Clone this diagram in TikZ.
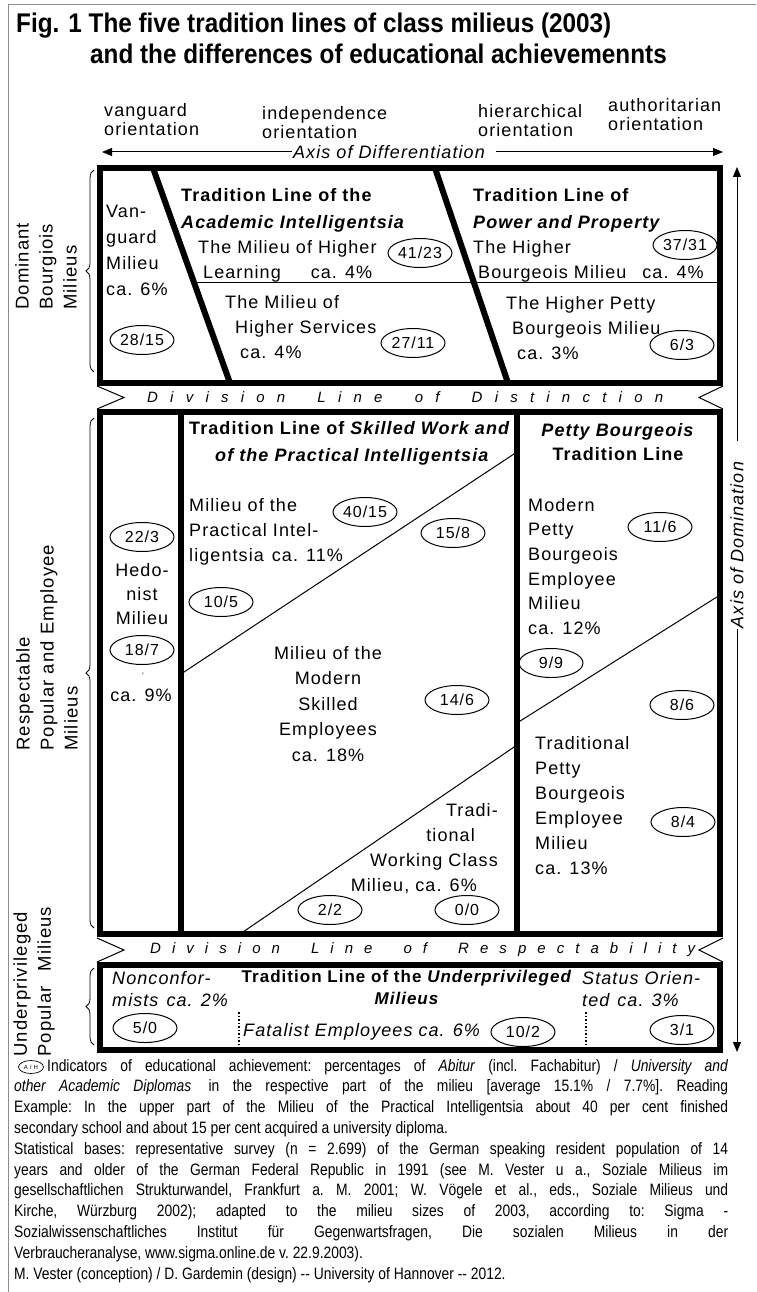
\documentclass[tikz,border=0pt]{standalone}
\usepackage{fontspec}
\setmainfont{Liberation Sans}[LetterSpace=6]
\newfontfamily\titlefont{Liberation Sans}[FakeStretch=0.9]
\newfontfamily\notefont{Liberation Sans}[FakeStretch=0.84]
\usetikzlibrary{arrows.meta,shapes.geometric,decorations.pathreplacing}

\newcommand\boxsize{\fontsize{18}{25}\selectfont}
\newcommand\spreadtext[2]{\makebox[#1][s]{#2}}

\tikzset{
  heavy/.style={line width=6pt},
  fineline/.style={line width=1pt},
  axisarrow/.style={line width=1pt, -{Triangle[length=10pt,width=8pt]}},
  titletext/.style={anchor=base west, inner sep=0pt,
    font=\titlefont\bfseries\fontsize{27}{30}\selectfont},
  lbl/.style={inner sep=0pt, align=left, anchor=north west, font=\boxsize},
  headlbl/.style={lbl, font=\fontsize{18}{27}\selectfont\bfseries},
  share/.style={ellipse, draw, line width=1pt, minimum width=64pt,
    minimum height=29pt, inner sep=0pt, font=\fontsize{16}{16}\selectfont},
  sidebrace/.style={decorate, decoration={brace, amplitude=8pt}, line width=0.8pt},
  sidelbl/.style={rotate=90, inner sep=0pt, align=left, anchor=west,
    font=\fontsize{18.5}{24}\selectfont},
  lowlbl/.style={inner sep=0pt, align=left, anchor=north west,
    font=\fontsize{18}{22}\selectfont\itshape},
  divlbl/.style={anchor=west, inner sep=0pt, font=\fontsize{15}{15}\selectfont\itshape},
}

\begin{document}
\begin{tikzpicture}[x=1pt, y=-1pt]
  \useasboundingbox (0,0) rectangle (756,1292);
  \draw[black!45, line width=1pt] (8,1292) -- (8,5) -- (756,5);

  % title
  \node[titletext] (title1) at (16,33) {Fig. 1 The five tradition lines of class milieus (2003)};
  \node[titletext] (title2) at (90,64) {and the differences of educational achievemennts};

  % orientations and the two axes
  \node[lbl, font=\fontsize{18}{19}\selectfont] (vanguard) at (104,103) {vanguard\\orientation};
  \node[lbl, font=\fontsize{18}{19}\selectfont] (independence) at (262,106) {independence\\orientation};
  \node[lbl, font=\fontsize{18}{19}\selectfont] (hierarchical) at (478,104) {hierarchical\\orientation};
  \node[lbl, font=\fontsize{18}{19}\selectfont] (authoritarian) at (608,98) {authoritarian\\orientation};

  \node[inner sep=1pt, font=\boxsize\itshape] (diff) at (389,152) {Axis of Differentiation};
  \coordinate (diffL) at (102,152);
  \coordinate (diffR) at (723,152);
  \draw[axisarrow] (diff.west) -- (diffL);
  \draw[axisarrow, shorten <=10pt] (diff.east) -- (diffR);

  \node[rotate=90, inner sep=1pt, font=\boxsize\itshape] (dom) at (737,545) {Axis of Domination};
  \coordinate (domT) at (737,167);
  \coordinate (domB) at (737,1052);
  \draw[axisarrow, shorten <=20pt] (dom.east) -- (domT);
  \draw[axisarrow] (dom.west) -- (domB);

  % left hand labels
  \draw[sidebrace] (94,372) -- (94,170);
  \draw[sidebrace] (94,928) -- (94,418);
  \draw[sidebrace] (94,1045) -- (94,968);
  \node[sidelbl] (dominant) at (46,310) {Dominant\\Bourgiois\\Milieus};
  \node[sidelbl] (respectable) at (47,751) {Respectable\\Popular and Employee\\Milieus};
  \node[sidelbl] (underpriv) at (34,1057) {Underprivileged\\\spreadtext{150pt}{Popular Milieus}};

  % dominant milieus
  \draw[heavy] (100,168) rectangle (720,383);
  \draw[heavy] (153,168) -- (230,383);
  \draw[heavy] (435,168) -- (508,383);
  \draw[fineline] (194,282) -- (720,282);

  \node[lbl, font=\fontsize{18}{26}\selectfont] (vanguardmil) at (106,205) {Van-\\guard\\Milieu\\ca. 6\%};
  \node[headlbl] (academic) at (181,188) {Tradition Line of the\\\textit{Academic Intelligentsia}};
  \node[lbl] (learning) at (198,240) {The Milieu of Higher\\\hspace*{5pt}Learning\hspace{30pt}ca. 4\%};
  \node[lbl] (services) at (225,295) {The Milieu of\\\hspace*{10pt}Higher Services\\\hspace*{15pt}ca. 4\%};
  \node[headlbl] (power) at (473,188) {Tradition Line of\\\textit{Power and Property}};
  \node[lbl] (higherbourg) at (473,240) {The Higher\\\hspace*{5pt}Bourgeois Milieu\hspace{16pt}ca. 4\%};
  \node[lbl] (pettybourg) at (506,296) {The Higher Petty\\\hspace*{6pt}Bourgeois Milieu\\\hspace*{11pt}ca. 3\%};

  % division line of distinction
  \draw[fineline] (97,386) -- (124,397.5) -- (97,409);
  \draw[fineline] (723,386) -- (699,397.5) -- (723,409);
  \node[divlbl] (distinction) at (147,397.5)
    {\spreadtext{516pt}{D i v i s i o n\hspace{20pt} L i n e\hspace{20pt} o f\hspace{20pt} D i s t i n c t i o n}};

  % respectable popular and employee milieus
  \draw[heavy] (100,412) rectangle (720,934);
  \draw[heavy] (181,412) -- (181,934);
  \draw[heavy] (517,412) -- (517,934);
  \draw[fineline] (181,674) -- (517,452);
  \draw[fineline] (240,934) -- (517,745);
  \draw[fineline] (517,723) -- (720,595);

  \node[lbl, align=center, anchor=north, font=\fontsize{18}{24}\selectfont] (hedonist) at (142,563) {Hedo-\\nist\\Milieu};
  \node[inner sep=0pt, font=\fontsize{8}{8}\selectfont] (tick) at (143,676) {'};
  \node[inner sep=0pt, font=\boxsize] (hedoshare) at (141,695) {ca. 9\%};

  \node[headlbl] (skilled) at (189,421) {Tradition Line of \textit{Skilled Work and}\\\hspace*{26pt}\textit{of the Practical Intelligentsia}};
  \node[lbl] (practical) at (189,498) {Milieu of the\\Practical Intel-\\ligentsia\hspace{8pt}ca. 11\%};
  \node[lbl, align=center, anchor=north, font=\fontsize{18}{25.5}\selectfont] (modskilled) at (328,646) {Milieu of the\\Modern\\Skilled\\Employees\\ca. 18\%};
  \node[lbl, align=right, anchor=north east] (working) at (498,803) {Tradi-\\tional\hspace{23pt}\mbox{}\\Working Class\\Milieu, ca. 6\%\hspace{21pt}\mbox{}};

  \node[headlbl, align=center, anchor=north, font=\fontsize{18}{24}\selectfont\bfseries] (pettyhead) at (618,423) {\textit{Petty Bourgeois}\\Tradition Line};
  \node[lbl, font=\fontsize{18}{24.6}\selectfont] (modpetty) at (528,498) {Modern\\Petty\\Bourgeois\\Employee\\Milieu\\ca. 12\%};
  \node[lbl] (tradpetty) at (535,736) {Traditional\\Petty\\Bourgeois\\Employee\\Milieu\\ca. 13\%};

  % division line of respectability
  \draw[fineline] (97,938) -- (124,950) -- (97,962);
  \draw[fineline] (723,938) -- (699,950) -- (723,962);
  \node[divlbl] (respectability) at (150,950)
    {\spreadtext{545pt}{D i v i s i o n\hspace{20pt} L i n e\hspace{20pt} o f\hspace{20pt} R e s p e c t a b i l i t y}};

  % underprivileged milieus
  \draw[heavy] (100,965) rectangle (720,1050);
  \draw[dotted, line width=1.5pt] (239,1012) -- (239,1048);
  \draw[dotted, line width=1.5pt] (586,1012) -- (586,1045);
  \node[lowlbl] (nonconf) at (112,971) {Nonconfor-\\mists\hspace{8pt}ca. 2\%};
  \node[lowlbl, align=center, anchor=north, font=\fontsize{17}{22}\selectfont\bfseries] (underhead) at (407,970)
    {Tradition Line of the \textit{Underprivileged}\\\textit{Milieus}};
  \node[lowlbl] (status) at (582,971) {Status Orien-\\ted\hspace{8pt}ca. 3\%};
  \node[lowlbl, anchor=west] (fatalist) at (243,1032) {Fatalist Employees\hspace{6pt}ca. 6\%};

  % educational achievement
  \foreach \x/\y/\a/\b in {142/340/28/15, 420/253/41/23, 413/343/27/11, 685/245/37/31,
      682/345/6/3, 142/537/22/3, 142/650/18/7, 365/512/40/15, 453/533/15/8,
      221/602/10/5, 457/700/14/6, 330/910/2/2, 467/910/0/0, 660/527/11/6,
      551/663/9/9, 682/705/8/6, 683/822/8/4, 145/1028/5/0, 523/1032/10/2, 682/1030/3/1}
    \node[share] (s\a-\b) at (\x,\y) {\a/\b};

  % notes
  \node[ellipse, draw, line width=0.7pt, minimum width=25pt, minimum height=13pt, inner sep=0pt,
    font=\fontsize{6}{6}\selectfont] (keyoval) at (31,1067) {A / H};
  \node[anchor=north west, inner sep=0pt, align=left,
    font=\notefont\fontsize{16.5}{20.8}\selectfont\frenchspacing] (notes) at (14,1059) {%
    \spreadtext{714pt}{\hspace*{33pt}Indicators of educational achievement: percentages of \textit{Abitur} (incl. Fachabitur) / \textit{University and}}\\
    \spreadtext{714pt}{\textit{other Academic Diplomas}\hspace{4pt} in the respective part of the milieu [average 15.1\% / 7.7\%]. Reading}\\
    \spreadtext{714pt}{Example: In the upper part of the Milieu of the Practical Intelligentsia about 40 per cent finished}\\
    secondary school and about 15 per cent acquired a university diploma.\\
    \spreadtext{714pt}{Statistical bases: representative survey (n = 2.699) of the German speaking resident population of 14}\\
    \spreadtext{714pt}{years and older of the German Federal Republic in 1991 (see M. Vester u a., Soziale Milieus im}\\
    \spreadtext{714pt}{gesellschaftlichen Strukturwandel, Frankfurt a. M. 2001; W. Vögele et al., eds., Soziale Milieus und}\\
    \spreadtext{714pt}{Kirche, Würzburg 2002); adapted to the milieu sizes of 2003, according to: Sigma -}\\
    \spreadtext{714pt}{Sozialwissenschaftliches Institut für Gegenwartsfragen, Die sozialen Milieus in der}\\
    Verbraucheranalyse, www.sigma.online.de v. 22.9.2003).\\
    M. Vester (conception) / D. Gardemin (design) -- University of Hannover -- 2012.};
\end{tikzpicture}
\end{document}
